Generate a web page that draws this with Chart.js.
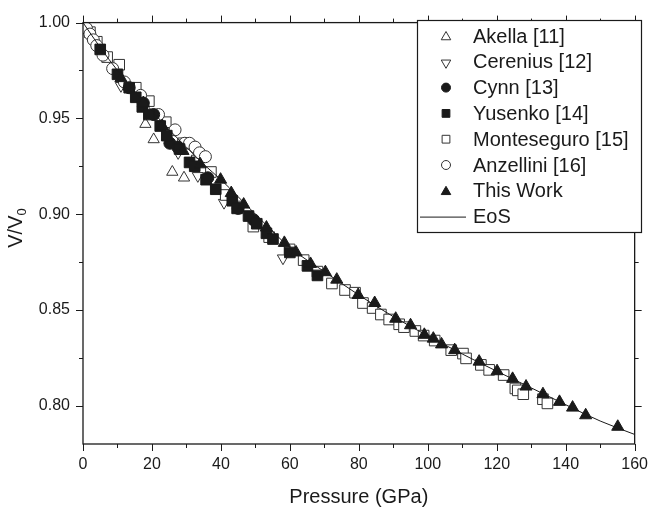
<!DOCTYPE html>
<html>
<head>
<meta charset="utf-8">
<script src="https://cdn.jsdelivr.net/npm/chart.js@4.4.1/dist/chart.umd.min.js"></script>
<style>
  html, body { margin: 0; padding: 0; background: #fff; }
</style>
</head>
<body>
<canvas id="myChart" width="659" height="510"></canvas>
<script>
// tick labels
const xTicks = [0, 20, 40, 60, 80, 100, 120, 140, 160];
const yTicks = [0.80, 0.85, 0.90, 0.95, 1.00];

// [pressure GPa, V/V0]
const akella = [[18.1, 0.947], [20.5, 0.939], [25.9, 0.922], [29.3, 0.919]];
const cerenius = [[11, 0.967], [27.6, 0.932], [33.3, 0.920], [40.9, 0.906], [58.0, 0.877]];
const cynn = [[13.4, 0.966], [17.5, 0.958], [20.5, 0.952], [25.2, 0.937], [27.5, 0.935], [36.2, 0.919], [45, 0.903], [49.5, 0.897]];
const yusenko = [
    [5, 0.986], [10, 0.973], [13.4, 0.966], [15.3, 0.961], [17.2, 0.956], [19.1, 0.952], [22.4, 0.946],
    [24.3, 0.941], [28, 0.934], [30.9, 0.927], [32.4, 0.925], [35.7, 0.918], [38.5, 0.913], [43.3, 0.907],
    [44.7, 0.903], [48, 0.899], [50.4, 0.895], [53.2, 0.890], [55.1, 0.887], [60, 0.880], [65.1, 0.873], [68, 0.868]
];
const monteseguro = [
    [2, 0.995], [4, 0.990], [7, 0.982], [10.5, 0.978], [15.3, 0.966], [19.1, 0.959], [24, 0.948], [29, 0.937],
    [33, 0.928], [37.1, 0.922], [41.4, 0.910], [45, 0.904], [49.4, 0.8935], [54, 0.888], [59.9, 0.8816],
    [64, 0.876], [68, 0.870], [72.2, 0.8638], [76, 0.8604], [78.9, 0.859], [81.2, 0.8536], [84, 0.851],
    [86.4, 0.8476], [88.8, 0.845], [91.7, 0.8425], [93.1, 0.841], [96.4, 0.839], [98.8, 0.8366], [102, 0.834],
    [106.8, 0.829], [110.2, 0.8272], [111.1, 0.8247], [115.4, 0.8213], [117.8, 0.8187], [122, 0.816],
    [125.4, 0.809], [126.1, 0.808], [127.7, 0.806], [133.4, 0.8034], [134.7, 0.8012]
];
const anzellini = [
    [1, 0.997], [2, 0.994], [3, 0.991], [4, 0.988], [5.8, 0.983], [8.6, 0.976], [12, 0.969], [16.7, 0.962],
    [21.9, 0.952], [26.7, 0.944], [29.5, 0.937], [30.9, 0.937], [32.5, 0.935], [33.8, 0.932], [35.5, 0.930]
];
const thisWork = [
    [11, 0.971], [17.5, 0.958], [23, 0.946], [29, 0.933], [34, 0.926], [39.9, 0.918], [43, 0.911], [46.6, 0.905],
    [53.2, 0.893], [58.4, 0.885], [61.8, 0.880], [66, 0.874], [70.3, 0.8697], [73.6, 0.8658], [79.8, 0.8578],
    [84.6, 0.8536], [90.7, 0.8454], [95, 0.842], [99, 0.837], [101.6, 0.835], [104, 0.832], [107.8, 0.829],
    [114.9, 0.823], [120.1, 0.818], [124.6, 0.814], [128.5, 0.810], [133.4, 0.806], [138.2, 0.802],
    [142, 0.799], [145.8, 0.795], [155.1, 0.789]
];
const eos = [
    [0, 1.000], [5, 0.987], [10, 0.975], [15, 0.964], [20, 0.954], [25, 0.944], [30, 0.935], [35, 0.926],
    [40, 0.918], [50, 0.900], [60, 0.8826], [70, 0.870], [80, 0.8578], [90, 0.8465], [100, 0.8365],
    [110, 0.827], [120, 0.818], [130, 0.8093], [140, 0.8005], [150, 0.792], [160, 0.785]
];

const FONT = "'Liberation Sans', Arial, sans-serif";
const INK = '#1a1a1a';
const toXY = arr => arr.map(([x, y]) => ({ x, y }));

function markerSet(label, data, style, filled, radius, order, rotation) {
    return {
        label: label,
        data: toXY(data),
        pointStyle: style,
        pointRotation: rotation || 0,
        pointRadius: radius,
        pointBorderWidth: 1,
        pointBorderColor: filled ? INK : '#333',
        pointBackgroundColor: filled ? INK : '#fff',
        showLine: false,
        order: order
    };
}

// legend entries: [label, style, filled, radius, rotation]
const legendItems = [
    ['Akella [11]', 'triangle', false, 5.5, 0],
    ['Cerenius [12]', 'triangle', false, 5.5, 180],
    ['Cynn [13]', 'circle', true, 4.5, 0],
    ['Yusenko [14]', 'rect', true, 5.5, 0],
    ['Monteseguro [15]', 'rect', false, 5.5, 0],
    ['Anzellini [16]', 'circle', false, 4.5, 0],
    ['This Work', 'triangle', true, 5.5, 0],
    ['EoS', 'line']
];

const decor = {
    id: 'decor',
    afterDraw(chart) {
        const { ctx, chartArea: a } = chart;
        const xs = chart.scales.x, ys = chart.scales.y;
        ctx.save();
        ctx.strokeStyle = INK;

        // frame
        ctx.lineWidth = 1.3;
        ctx.strokeRect(a.left, a.top, a.right - a.left, a.bottom - a.top);

        // tick marks on all four sides, pointing out
        ctx.lineWidth = 1;
        ctx.beginPath();
        for (let i = 0; i < xTicks.length; i++) {
            const marks = [[xTicks[i], 7]];
            if (i < xTicks.length - 1) marks.push([(xTicks[i] + xTicks[i + 1]) / 2, 4]);
            marks.forEach(([v, len]) => {
                const px = Math.round(xs.getPixelForValue(v)) + 0.5;
                ctx.moveTo(px, a.bottom); ctx.lineTo(px, a.bottom + len);
                ctx.moveTo(px, a.top); ctx.lineTo(px, a.top - len);
            });
        }
        for (let i = 0; i < yTicks.length; i++) {
            const marks = [[yTicks[i], 7]];
            if (i < yTicks.length - 1) marks.push([(yTicks[i] + yTicks[i + 1]) / 2, 4]);
            marks.forEach(([v, len]) => {
                const py = Math.round(ys.getPixelForValue(v)) + 0.5;
                ctx.moveTo(a.left, py); ctx.lineTo(a.left - len, py);
                ctx.moveTo(a.right, py); ctx.lineTo(a.right + len, py);
            });
        }
        ctx.stroke();

        // axis titles
        ctx.fillStyle = INK;
        ctx.font = '20px ' + FONT;
        ctx.textAlign = 'center';
        ctx.textBaseline = 'alphabetic';
        ctx.fillText('Pressure (GPa)', (a.left + a.right) / 2, 503);

        ctx.save();
        ctx.translate(22, 228);
        ctx.rotate(-Math.PI / 2);
        ctx.textAlign = 'left';
        const w1 = ctx.measureText('V/V').width;
        ctx.font = '13px ' + FONT;
        const w2 = ctx.measureText('0').width;
        ctx.font = '20px ' + FONT;
        ctx.fillText('V/V', -(w1 + w2) / 2, 0);
        ctx.font = '13px ' + FONT;
        ctx.fillText('0', -(w1 + w2) / 2 + w1, 4);
        ctx.restore();

        // legend box
        const bx = 417, by = 20, bw = 224, bh = 212;
        ctx.fillStyle = '#fff';
        ctx.fillRect(bx, by, bw, bh);
        ctx.lineWidth = 1.2;
        ctx.strokeRect(bx + 0.5, by + 0.5, bw, bh);
        ctx.font = '20px ' + FONT;
        ctx.textAlign = 'left';
        ctx.textBaseline = 'middle';
        legendItems.forEach(([label, style, filled, r, rot], i) => {
            const cy = 36 + i * 25.8;
            if (style === 'line') {
                ctx.lineWidth = 1;
                ctx.strokeStyle = INK;
                ctx.beginPath();
                ctx.moveTo(420, cy + 0.5); ctx.lineTo(466, cy + 0.5);
                ctx.stroke();
            } else {
                ctx.lineWidth = 1;
                ctx.strokeStyle = filled ? INK : '#333';
                ctx.fillStyle = filled ? INK : '#fff';
                Chart.helpers.drawPoint(ctx, { pointStyle: style, radius: r, rotation: rot, borderWidth: 1 }, 446, cy + (style === 'triangle' ? 1 : 0));
            }
            ctx.fillStyle = INK;
            ctx.fillText(label, 473, cy + 1);
        });
        ctx.restore();
    }
};

const ctx = document.getElementById('myChart').getContext('2d');
const myChart = new Chart(ctx, {
    type: 'scatter',
    data: {
        datasets: [
            markerSet('Akella [11]', akella, 'triangle', false, 6.5, 8),
            markerSet('Cerenius [12]', cerenius, 'triangle', false, 6.5, 7, 180),
            markerSet('Monteseguro [15]', monteseguro, 'rect', false, 7.5, 6),
            markerSet('Anzellini [16]', anzellini, 'circle', false, 6, 5),
            markerSet('Cynn [13]', cynn, 'circle', true, 6, 4),
            markerSet('Yusenko [14]', yusenko, 'rect', true, 7.5, 3),
            {
                label: 'EoS',
                data: toXY(eos),
                showLine: true,
                borderColor: INK,
                borderWidth: 1,
                pointRadius: 0,
                cubicInterpolationMode: 'monotone',
                order: 2
            },
            markerSet('This Work', thisWork, 'triangle', true, 7, 1)
        ]
    },
    options: {
        responsive: false,
        animation: false,
        events: [],
        devicePixelRatio: 1,
        layout: { padding: { top: 13, right: 14, left: 0, bottom: 0 } },
        plugins: {
            legend: { display: false },
            tooltip: { enabled: false }
        },
        scales: {
            x: {
                type: 'linear',
                min: 0,
                max: 160,
                afterBuildTicks: s => { s.ticks = xTicks.map(v => ({ value: v })); },
                afterFit: s => { s.height = 66; },
                grid: { display: false, drawTicks: false },
                border: { display: false },
                ticks: { padding: 11, color: INK, maxRotation: 0, autoSkip: false, font: { size: 16, family: FONT } }
            },
            y: {
                type: 'linear',
                min: 0.78,
                max: 1.0,
                afterBuildTicks: s => { s.ticks = yTicks.map(v => ({ value: v })); },
                afterFit: s => { s.width = 83; },
                grid: { display: false, drawTicks: false },
                border: { display: false },
                ticks: { padding: 13, color: INK, font: { size: 16, family: FONT }, callback: v => v.toFixed(2) }
            }
        }
    },
    plugins: [decor]
});
</script>
</body>
</html>
